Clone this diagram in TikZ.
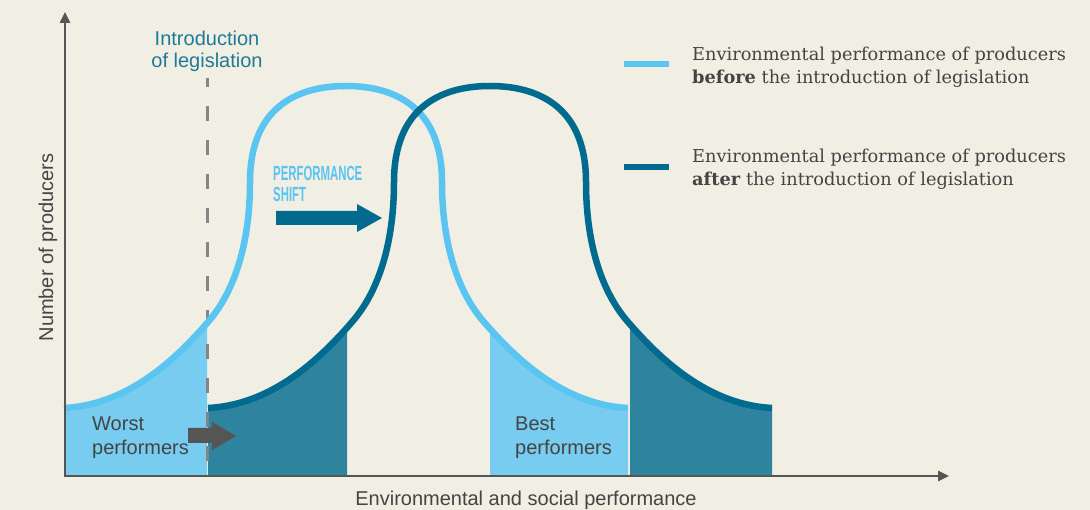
\documentclass[tikz,border=0pt]{standalone}
\usepackage{fontspec}
\usetikzlibrary{arrows.meta}
\setmainfont{DejaVu Serif}
\newfontfamily\sansf{Liberation Sans}
\newfontfamily\condf[FakeStretch=0.555]{Liberation Sans Bold}
\definecolor{bgc}{HTML}{F1EEE4}
\definecolor{lline}{HTML}{5BC5F2}
\definecolor{lfill}{HTML}{78CCF0}
\definecolor{dline}{HTML}{006B8F}
\definecolor{dfill}{HTML}{2E849E}
\definecolor{teal}{HTML}{1E7B98}
\definecolor{axisc}{HTML}{555555}
\definecolor{txt}{HTML}{444444}
\definecolor{dashc}{HTML}{858585}
\newcommand\bellpath{(-282,408) .. controls (-222,405) and (-175,365) .. (-138,322) .. controls (-110,290) and (-96,240) .. (-96,182) .. controls (-96,110) and (-52,86) .. (0,86) .. controls (52,86) and (96,110) .. (96,182) .. controls (96,240) and (110,290) .. (138,322) .. controls (175,365) and (222,405) .. (282,408)}
\begin{document}
\begin{tikzpicture}[x=1pt,y=-1pt,
  lightcurve/.style={draw=lline,line width=6.5pt},
  darkcurve/.style={draw=dline,line width=6.5pt},
  axisline/.style={draw=axisc,line width=2.5pt,-{Triangle[length=11pt,width=10pt]}},
  sanslabel/.style={inner sep=0pt,text=txt,font=\sansf\fontsize{20}{24}\selectfont},
  introtext/.style={inner sep=0pt,text=teal,font=\sansf\fontsize{20}{22}\selectfont},
  legendtext/.style={inner sep=0pt,text=txt,font=\fontsize{17.75}{23}\selectfont},
  shifttext/.style={inner sep=0pt,text=lline,font=\condf\fontsize{20.5}{20.5}\selectfont},
  swatch/.style={line width=6.5pt}]
\fill[bgc] (0,0) rectangle (1090,510);
\useasboundingbox (0,0) rectangle (1090,510);
% fills of the "before" curve
\begin{scope}[xshift=346pt]
  \begin{scope}
    \clip (-282,0) rectangle (-139,476);
    \fill[lfill] \bellpath -- (282,476) -- (-282,476) -- cycle;
  \end{scope}
  \begin{scope}
    \clip (144,0) rectangle (284,476);
    \fill[lfill] \bellpath -- (282,476) -- (-282,476) -- cycle;
  \end{scope}
\end{scope}
% fills of the "after" curve
\begin{scope}[xshift=490pt]
  \begin{scope}
    \clip (-283,0) rectangle (-143,476);
    \fill[dfill] \bellpath -- (282,476) -- (-282,476) -- cycle;
  \end{scope}
  \begin{scope}
    \clip (140,0) rectangle (283,476);
    \fill[dfill] \bellpath -- (282,476) -- (-282,476) -- cycle;
  \end{scope}
\end{scope}
% legislation line
\coordinate (legtop) at (207,78);
\coordinate (legbot) at (207,476);
\draw[dashc,line width=3pt,dash pattern=on 15pt off 19pt,dash phase=6pt] (legtop) -- (legbot);
% curves
\begin{scope}[xshift=346pt]
  \draw[lightcurve] \bellpath;
\end{scope}
\begin{scope}[xshift=490pt]
  \draw[darkcurve] \bellpath;
\end{scope}
% axes
\coordinate (O) at (65,476);
\coordinate (ytop) at (65,12);
\coordinate (xend) at (949,476);
\draw[axisline] (65,477.2) -- (ytop);
\draw[axisline] (63.8,476) -- (xend);
% block arrows
\fill[dline] (276,211) -- (357,211) -- (357,204) -- (382,218) -- (357,232) -- (357,225) -- (276,225) -- cycle;
\fill[axisc] (188,428) -- (212,428) -- (212,422) -- (236,436) -- (212,450) -- (212,443) -- (188,443) -- cycle;
% texts
\node[sanslabel,rotate=90,anchor=base] (ylab) at (53,247.5) {Number of producers};
\node[sanslabel,anchor=base] (xlab) at (526,505.5) {Environmental and social performance};
\node[introtext,align=center,anchor=north] (intro) at (207,30.5) {Introduction\\of legislation};
\node[sanslabel,align=left,anchor=north west] (worst) at (92,416.5) {Worst\\performers};
\node[sanslabel,align=left,anchor=north west] (best) at (515,416.5) {Best\\performers};
\node[shifttext,align=left,anchor=north west] (shift) at (273,166) {PERFORMANCE\\SHIFT};
% legend
\draw[swatch,lline] (624,64) -- (669,64);
\draw[swatch,dline] (624,167) -- (669,167);
\node[legendtext,align=left,anchor=north west] (leg1) at (692,46.5) {Environmental performance of producers\\\textbf{before} the introduction of legislation};
\node[legendtext,align=left,anchor=north west] (leg2) at (692,148.5) {Environmental performance of producers\\\textbf{after} the introduction of legislation};
\end{tikzpicture}
\end{document}
